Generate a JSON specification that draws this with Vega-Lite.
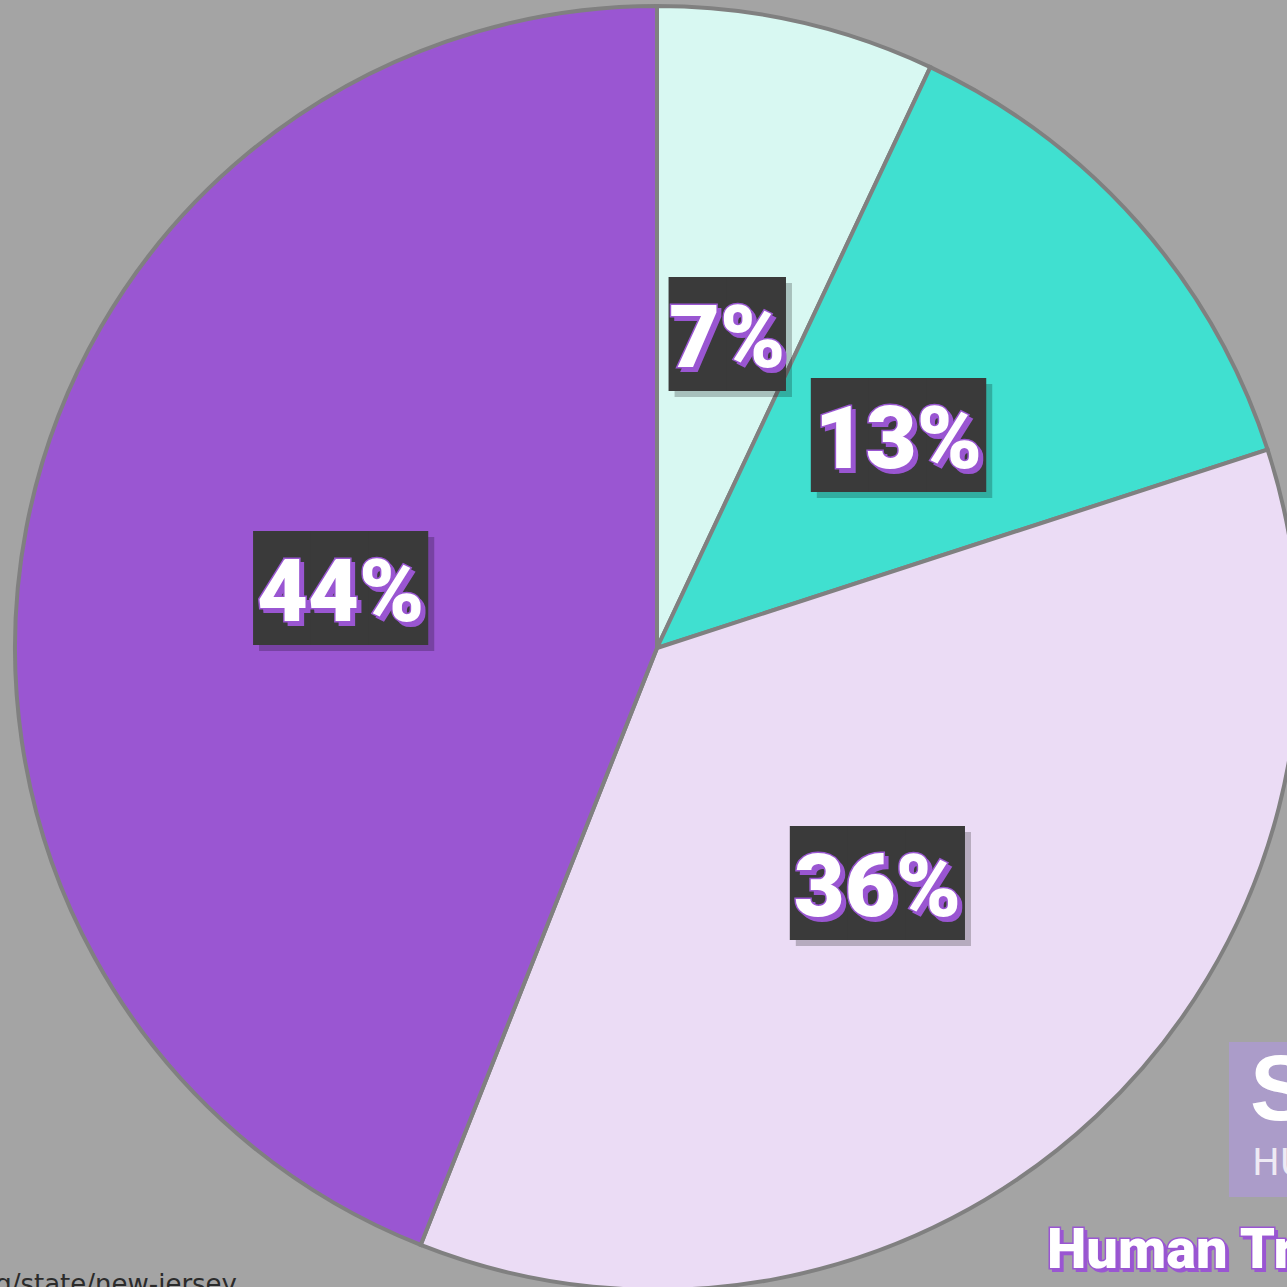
{
  "$schema": "https://vega.github.io/schema/vega-lite/v6.json",
  "width": 1314,
  "height": 1296,
  "padding": 0,
  "autosize": {"type": "none"},
  "background": "#a4a4a4",
  "config": {"view": {"stroke": null}},
  "layer": [
    {
      "data": {"values": [
        {"seg": 1, "pct": 7, "label": "7%"},
        {"seg": 2, "pct": 13, "label": "13%"},
        {"seg": 3, "pct": 36, "label": "36%"},
        {"seg": 4, "pct": 44, "label": "44%"}
      ]},
      "encoding": {
        "theta": {"field": "pct", "type": "quantitative", "stack": true},
        "order": {"field": "seg", "type": "quantitative", "sort": "ascending"}
      },
      "layer": [
        {
          "mark": {"type": "arc", "outerRadius": 642, "stroke": "#808080", "strokeWidth": 4},
          "encoding": {
            "color": {"field": "seg", "type": "nominal", "legend": null,
              "scale": {"domain": [1, 2, 3, 4], "range": ["#d8f8f2", "#40e0d0", "#ebdcf5", "#9a56d2"]}}
          }
        },
        {
          "mark": {"type": "text", "font": "DejaVu Sans Mono", "fontSize": 96, "radius": 322, "align": "center", "baseline": "middle", "dx": 6, "dy": 10, "color": "#000000", "opacity": 0.22},
          "encoding": {"text": {"condition": {"test": "datum.seg == 1", "value": "██"}, "value": "███"}}
        },
        {
          "mark": {"type": "text", "font": "DejaVu Sans Mono", "fontSize": 96, "radius": 322, "align": "center", "baseline": "middle", "dy": 4, "color": "#3a3a3a"},
          "encoding": {"text": {"condition": {"test": "datum.seg == 1", "value": "██"}, "value": "███"}}
        },
        {
          "mark": {"type": "text", "font": "Roboto", "fontWeight": 900, "fontSize": 88, "radius": 322, "align": "center", "baseline": "middle", "dx": 4, "dy": 11, "fill": "#9a56d2", "stroke": "#9a56d2", "strokeWidth": 2},
          "encoding": {"text": {"field": "label", "type": "nominal"}}
        },
        {
          "mark": {"type": "text", "font": "Roboto", "fontWeight": 900, "fontSize": 88, "radius": 322, "align": "center", "baseline": "middle", "dy": 7, "fill": "#9a56d2", "stroke": "#9a56d2", "strokeWidth": 3},
          "encoding": {"text": {"field": "label", "type": "nominal"}}
        },
        {
          "mark": {"type": "text", "font": "Roboto", "fontWeight": 900, "fontSize": 88, "radius": 322, "align": "center", "baseline": "middle", "dy": 7, "fill": "#ffffff"},
          "encoding": {"text": {"field": "label", "type": "nominal"}}
        }
      ]
    },
    {
      "data": {"values": [{"t": "https://humantraffickinghotline.org/state/new-jersey"}]},
      "mark": {"type": "text", "font": "DejaVu Sans", "fontSize": 26, "align": "right", "baseline": "alphabetic", "color": "#2b2b2b"},
      "encoding": {"text": {"field": "t", "type": "nominal"}, "x": {"value": 237}, "y": {"value": 1293}}
    },
    {
      "data": {"values": [{"t": "logo"}]},
      "mark": {"type": "rect", "color": "#ab9cc9"},
      "encoding": {"x": {"value": 1229}, "x2": {"value": 1300}, "y": {"value": 1042}, "y2": {"value": 1197}}
    },
    {
      "data": {"values": [{"t": "S"}]},
      "mark": {"type": "text", "font": "Liberation Sans", "fontWeight": "bold", "fontSize": 92, "align": "left", "baseline": "alphabetic", "color": "#ffffff"},
      "encoding": {"text": {"field": "t", "type": "nominal"}, "x": {"value": 1250}, "y": {"value": 1120}}
    },
    {
      "data": {"values": [{"t": "HU"}]},
      "mark": {"type": "text", "font": "DejaVu Sans", "fontWeight": "normal", "fontSize": 37, "align": "left", "baseline": "alphabetic", "color": "#eeeaf4"},
      "encoding": {"text": {"field": "t", "type": "nominal"}, "x": {"value": 1252}, "y": {"value": 1175}}
    },
    {
      "data": {"values": [{"t": "Human Trafficking"}]},
      "mark": {"type": "text", "font": "Roboto", "fontWeight": 900, "fontSize": 56, "align": "left", "baseline": "alphabetic", "dx": 3, "dy": 3, "fill": "#9a56d2", "stroke": "#9a56d2", "strokeWidth": 2},
      "encoding": {"text": {"field": "t", "type": "nominal"}, "x": {"value": 1047}, "y": {"value": 1268}}
    },
    {
      "data": {"values": [{"t": "Human Trafficking"}]},
      "mark": {"type": "text", "font": "Roboto", "fontWeight": 900, "fontSize": 56, "align": "left", "baseline": "alphabetic", "fill": "#9a56d2", "stroke": "#9a56d2", "strokeWidth": 3},
      "encoding": {"text": {"field": "t", "type": "nominal"}, "x": {"value": 1047}, "y": {"value": 1268}}
    },
    {
      "data": {"values": [{"t": "Human Trafficking"}]},
      "mark": {"type": "text", "font": "Roboto", "fontWeight": 900, "fontSize": 56, "align": "left", "baseline": "alphabetic", "fill": "#ffffff"},
      "encoding": {"text": {"field": "t", "type": "nominal"}, "x": {"value": 1047}, "y": {"value": 1268}}
    }
  ]
}
